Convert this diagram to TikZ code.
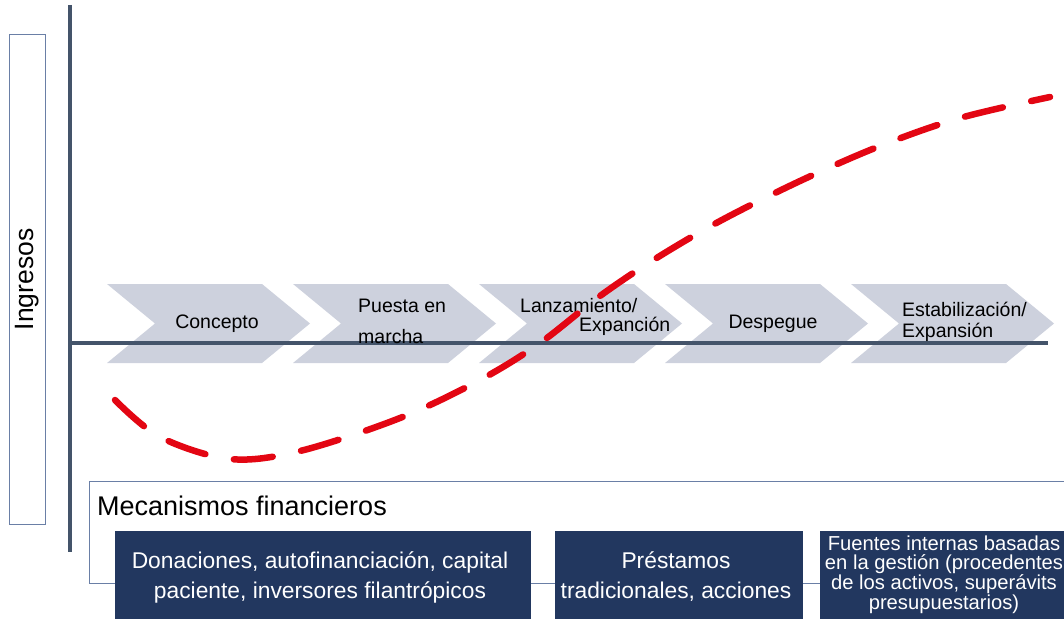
\documentclass[tikz,border=0pt]{standalone}
\usepackage{fontspec}
\setmainfont{Liberation Sans}
\definecolor{axisc}{HTML}{44546A}
\definecolor{chev}{HTML}{CDD1DD}
\definecolor{darkb}{HTML}{22375F}
\definecolor{redc}{HTML}{E30613}
\definecolor{framec}{HTML}{6A7FA6}
\tikzset{
  chevshape/.style={fill=chev, draw=none},
  chevtext/.style={font=\fontsize{19.5}{31}\selectfont, inner sep=0pt, align=left},
  darkbox/.style={fill=darkb, draw=none, text=white, align=center, inner sep=0pt},
  axisline/.style={draw=axisc, line width=3.2pt},
}
\begin{document}
\begin{tikzpicture}[x=1pt,y=-1pt]
\useasboundingbox (0,0) rectangle (1064,618);
% Ingresos box
\node[draw=framec, line width=1pt, minimum width=36pt, minimum height=489pt, inner sep=0pt] (ing) at (27,279.5) {};
\node[rotate=90, font=\fontsize{26.5}{30}\selectfont] (ingt) at (ing.center) {Ingresos};
% chevrons
\foreach \x/\n in {107/c1,293/c2,479/c3,665/c4,851/c5}{
  \fill[chevshape] (\x,284) -- ++(155,0) -- ++(48,39.5) -- ++(-48,39.5) -- ++(-155,0) -- ++(48,-39.5) -- cycle;
}
% axes
\coordinate (ytop) at (70,5);
\coordinate (ybot) at (70,552);
\coordinate (xl) at (70,343);
\coordinate (xr) at (1048,343);
\draw[axisline] (ytop) -- (ybot);
\draw[axisline] (xl) -- (xr);
% chevron texts
\node[chevtext, anchor=base] (t1) at (217,328) {Concepto};
\node[chevtext, anchor=base west] (t2a) at (358,312) {Puesta en};
\node[chevtext, anchor=base west] (t2b) at (358,343) {marcha};
\node[chevtext, anchor=base west] (t3a) at (520,312) {Lanzamiento/};
\node[chevtext, anchor=base west] (t3b) at (579,331) {Expanción};
\node[chevtext, anchor=base] (t4) at (773,328) {Despegue};
\node[chevtext, anchor=base west] (t5a) at (902,316) {Estabilización/};
\node[chevtext, anchor=base west] (t5b) at (902,337) {Expansión};
% red curve
\draw[redc, line width=6.5pt, line cap=round, dash pattern=on 39pt off 29pt]
  plot[smooth, tension=0.55] coordinates {(115,400) (160,437) (230,459) (300,451) (400,418) (480,380) (540,343) (600,296) (655,259) (720,221) (800,181) (880,146) (960,118) (1050,97)};
% mechanisms frame
\draw[framec, line width=1pt] (1075,481) -- (89,481) -- (89,583) -- (1075,583);
\node[anchor=base west, font=\fontsize{27}{30}\selectfont, inner sep=0pt] (mech) at (97,515) {Mecanismos financieros};
% dark boxes
\node[darkbox, minimum width=416pt, minimum height=88pt] (b1) at (322.5,575) {};
\node[darkbox, font=\fontsize{22.8}{30}\selectfont] (b1t) at (320,577) {Donaciones, autofinanciación, capital\\paciente, inversores filantrópicos};
\node[darkbox, minimum width=248pt, minimum height=88pt] (b2) at (678.5,575) {};
\node[darkbox, font=\fontsize{22.8}{30}\selectfont] (b2t) at (676,577) {Préstamos\\tradicionales, acciones};
\node[darkbox, minimum width=250pt, minimum height=88pt] (b3) at (945,575) {};
\node[darkbox, font=\fontsize{20.2}{19.6}\selectfont] (b3t) at (944,574.5) {Fuentes internas basadas\\en la gestión (procedentes\\de los activos, superávits\\presupuestarios)};
\end{tikzpicture}
\end{document}
